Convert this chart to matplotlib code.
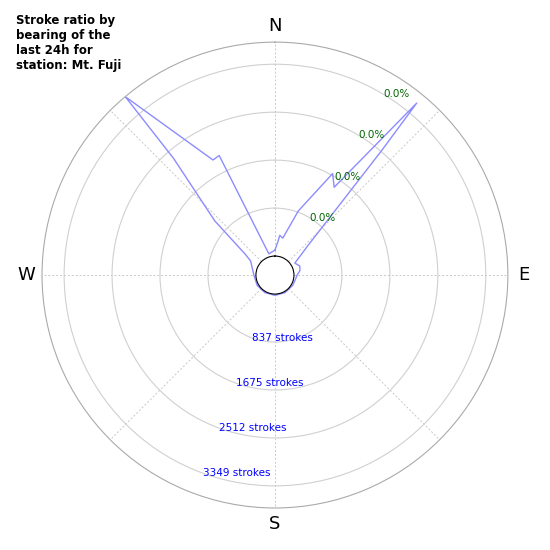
import numpy as np
import matplotlib
matplotlib.use("Agg")
import matplotlib.pyplot as plt

bearing = [0, 5, 7, 12, 20, 29.6, 34, 39.5, 40.6, 45, 48, 59, 70, 80, 90, 100, 120, 150, 180, 210, 240, 270, 285, 300, 305, 312, 319, 320, 331.7, 335, 344, 352, 360]
strokes = [102, 251, 367, 327, 857, 1706, 1518, 3560, 2532, 785, 454, 74, 130, 111, 55, 36, 27, 22, 22, 22, 27, 36, 74, 158, 299, 1082, 2362, 3735, 1950, 1971, 52, 74, 102]
ring_values = [837, 1675, 2512, 3349]
ring_labels = ["837 strokes", "1675 strokes", "2512 strokes", "3349 strokes"]
pct_labels = ["0.0%", "0.0%", "0.0%", "0.0%"]

fig = plt.figure(figsize=(5.5, 5.5), dpi=100)
ax = fig.add_axes([0.0764, 0.0764, 0.847, 0.847], projection="polar")
ax.set_theta_zero_location("N")
ax.set_theta_direction(-1)
ax.set_rorigin(-332)
ax.set_ylim(0, 3735)
ax.plot(np.deg2rad(bearing), strokes, color="#8c8cff", lw=1)

ax.set_rticks(ring_values)
ax.set_yticklabels([])
ax.yaxis.grid(True, color="#d0d0d0", ls="-", lw=0.8)
ax.set_xticks(np.deg2rad(np.arange(0, 360, 45)))
ax.set_xticklabels(["N", "", "E", "", "S", "", "W", ""], fontsize=13)
ax.xaxis.grid(True, color="#c8c8c8", ls=(0, (2, 2)), lw=0.7)
ax.tick_params(axis="x", pad=1)
ax.spines["polar"].set_color("#aaaaaa")
ax.spines["polar"].set_linewidth(0.8)
ax.spines["inner"].set_color("black")
ax.spines["inner"].set_linewidth(0.8)

for v, lab in zip(ring_values, ring_labels):
    ax.text(np.deg2rad(200), v, lab, color="blue", fontsize=7.5, ha="left", va="center")
for v, lab in zip(ring_values, pct_labels):
    ax.text(np.deg2rad(31), v, lab, color="darkgreen", fontsize=7.5, ha="left", va="center")

fig.text(0.03, 0.975, "Stroke ratio by\nbearing of the\nlast 24h for\nstation: Mt. Fuji", fontsize=8.5, fontweight="bold", va="top", ha="left")
fig.savefig("out.png", dpi=100)
